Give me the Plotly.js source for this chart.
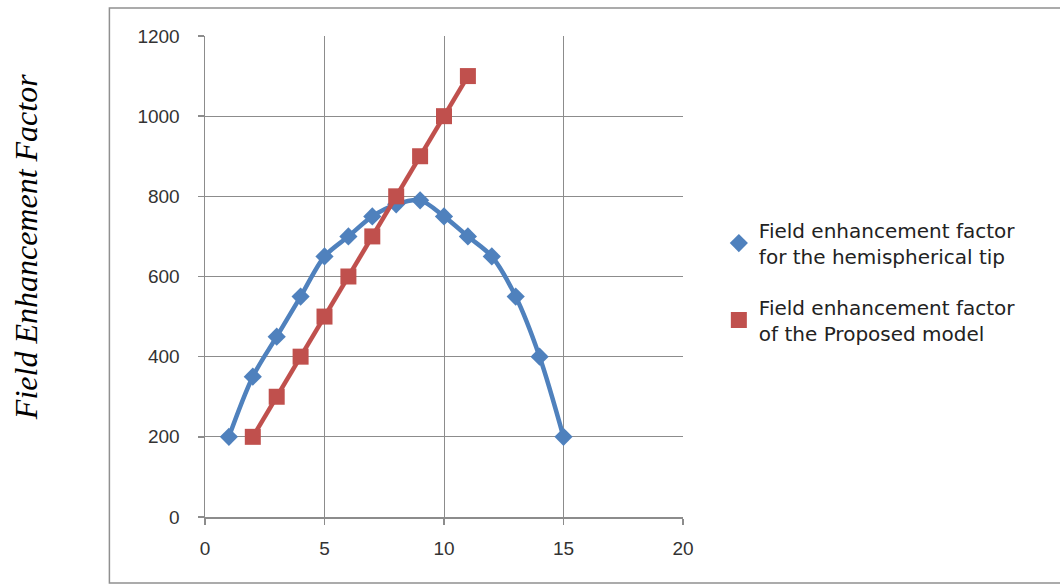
<!DOCTYPE html>
<html>
<head>
<meta charset="utf-8">
<script src="https://cdn.plot.ly/plotly-3.0.1.min.js"></script>
<style>html,body{margin:0;padding:0;background:#fff;}#chart{width:1060px;height:584px;}</style>
</head>
<body>
<div id="chart"></div>
<script>
// Data
var hemiX = [1, 2, 3, 4, 5, 6, 7, 8, 9, 10, 11, 12, 13, 14, 15];
var hemiY = [200, 350, 450, 550, 650, 700, 750, 780, 790, 750, 700, 650, 550, 400, 200];
var propX = [2, 3, 4, 5, 6, 7, 8, 9, 10, 11];
var propY = [200, 300, 400, 500, 600, 700, 800, 900, 1000, 1100];
var hemiName = 'Field enhancement factor<br>for the hemispherical tip';
var propName = 'Field enhancement factor<br>of the Proposed model';
var yTitle = '<i>Field Enhancement Factor</i>';
var xTicks = [0, 5, 10, 15, 20];
var yTicks = [0, 200, 400, 600, 800, 1000, 1200];

var blue = '#4F81BD', red = '#C0504D';
var traces = [
  {x: hemiX, y: hemiY, mode: 'lines', line: {color: blue, width: 4.5, shape: 'spline', smoothing: 0.9}, showlegend: false, hoverinfo: 'skip'},
  {x: hemiX, y: hemiY, mode: 'markers', marker: {symbol: 'diamond', color: blue, size: 14}, name: hemiName, legendgroup: 'a'},
  {x: propX, y: propY, mode: 'lines', line: {color: red, width: 4.5}, showlegend: false, hoverinfo: 'skip'},
  {x: propX, y: propY, mode: 'markers', marker: {symbol: 'square', color: red, size: 16}, name: propName, legendgroup: 'b'}
];
var gridC = '#8c8c8c';
var tickF = {family: 'Liberation Sans, Arial, sans-serif', size: 19, color: '#333'};
var layout = {
  width: 1060, height: 584,
  margin: {l: 205, r: 377, t: 36, b: 67},
  paper_bgcolor: '#fff', plot_bgcolor: '#fff',
  font: {family: 'Liberation Sans, Arial, sans-serif', size: 19, color: '#333'},
  xaxis: {range: [0, 20], tickvals: xTicks, showgrid: true, gridcolor: gridC, gridwidth: 1,
    zeroline: false, showline: true, linecolor: gridC, linewidth: 1.5, tickfont: tickF,
    ticks: 'outside', ticklen: 6, tickcolor: gridC, tickwidth: 1.5, ticklabelstandoff: 8, fixedrange: true},
  yaxis: {range: [0, 1200], tickvals: yTicks, showgrid: true, gridcolor: gridC, gridwidth: 1,
    zeroline: false, showline: true, linecolor: gridC, linewidth: 1.5, tickfont: tickF,
    ticks: 'outside', ticklen: 6, tickcolor: gridC, tickwidth: 1.5, ticklabelstandoff: 14, fixedrange: true},
  showlegend: true,
  legend: {x: 1.075, y: 0.637, xanchor: 'left', yanchor: 'top', tracegroupgap: 22,
    font: {family: 'DejaVu Sans, Verdana, sans-serif', size: 20, color: '#222'}, itemwidth: 30},
  annotations: [{text: yTitle, xref: 'paper', yref: 'paper', x: -0.3745, y: 0.561, textangle: -90,
    showarrow: false, xanchor: 'center', yanchor: 'middle',
    font: {family: 'Liberation Serif, Times New Roman, serif', size: 32, color: '#000'}}],
  shapes: [{type: 'rect', xref: 'paper', yref: 'paper', x0: -0.2, x1: 1.8, y0: -0.137, y1: 1.058,
    line: {color: '#909090', width: 1.5}}]
};
Plotly.newPlot('chart', traces, layout, {displayModeBar: false, staticPlot: true});
</script>
</body>
</html>
